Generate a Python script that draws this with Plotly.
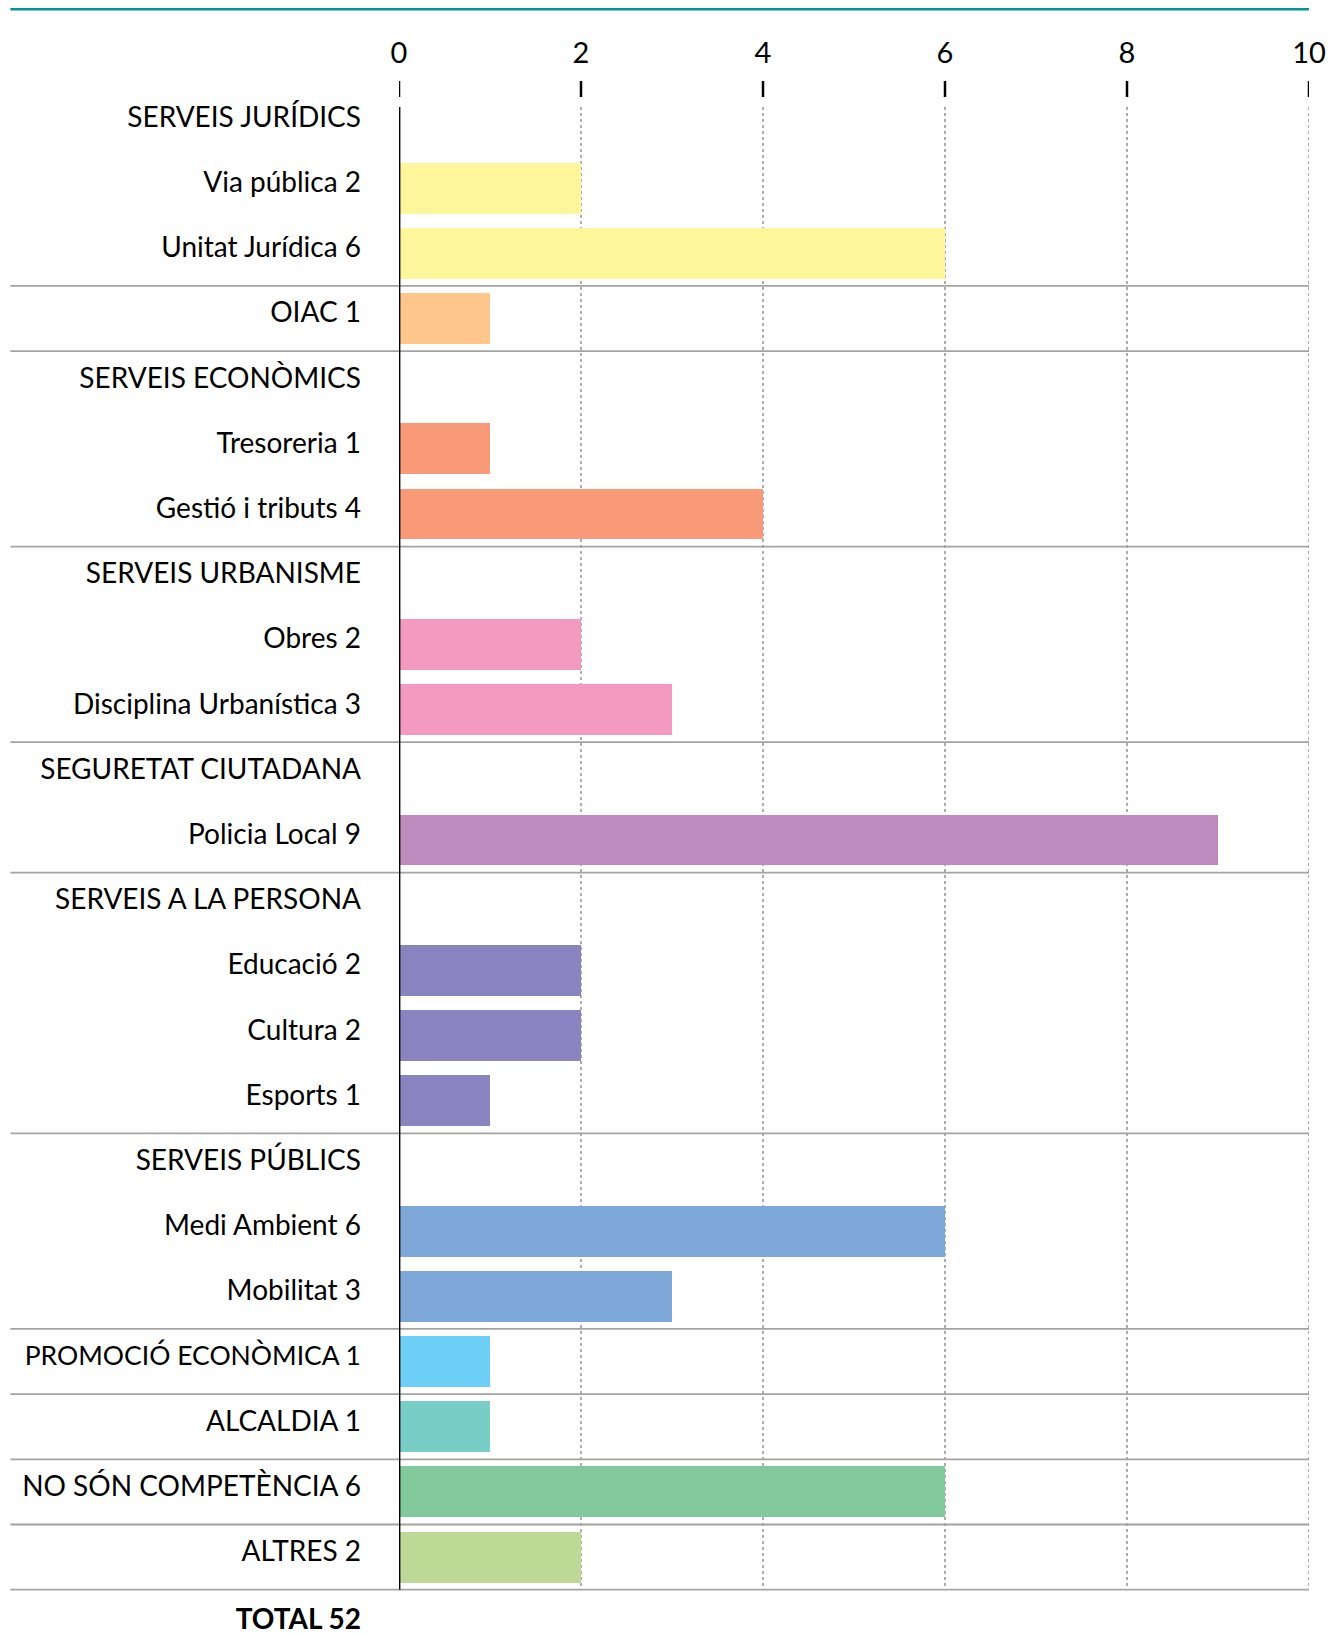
import plotly.graph_objects as go

# ---- data ----
names = ["SERVEIS JURÍDICS", "Via pública", "Unitat Jurídica", "OIAC",
         "SERVEIS ECONÒMICS", "Tresoreria", "Gestió i tributs",
         "SERVEIS URBANISME", "Obres", "Disciplina Urbanística",
         "SEGURETAT CIUTADANA", "Policia Local",
         "SERVEIS A LA PERSONA", "Educació", "Cultura", "Esports",
         "SERVEIS PÚBLICS", "Medi Ambient", "Mobilitat",
         "PROMOCIÓ ECONÒMICA", "ALCALDIA", "NO SÓN COMPETÈNCIA", "ALTRES"]
values = [None, 2, 6, 1,
          None, 1, 4,
          None, 2, 3,
          None, 9,
          None, 2, 2, 1,
          None, 6, 3,
          1, 1, 6, 2]
colors = [None, "#FFF69B", "#FFF69B", "#FEC68A",
          None, "#F89A78", "#F89A78",
          None, "#F49AC1", "#F49AC1",
          None, "#BD8BBE",
          None, "#8A84C0", "#8A84C0", "#8A84C0",
          None, "#7DA7D8", "#7DA7D8",
          "#6ECFF6", "#79CDC7", "#82CA9C", "#BED896"]
separators_after = [2, 3, 6, 9, 11, 15, 18, 19, 20, 21, 22]
total_label = "TOTAL 52"
x_ticks = [0, 2, 4, 6, 8, 10]
narrow_names = ["PROMOCIÓ ECONÒMICA"]   # set a touch smaller so it fits the edge

FONT = "Lato"
FS = 28

rows = list(range(len(names)))
labels = []
for n, v in zip(names, values):
    t = n if v is None else f"{n} {v}"
    if n in narrow_names:
        t = f'<span style="font-size:26.5px">{t}</span>'
    labels.append(t)
bar_rows = [r for r, v in zip(rows, values) if v is not None]
bar_vals = [v for v in values if v is not None]
bar_cols = [c for c in colors if c is not None]

W, H = 1344, 1634
ML, MR, MT, MB = 391, 43, 99, 0
row_h = 65.19
row_top = -0.244
ph = H - MT - MB
pw = W - ML - MR
row_bot = row_top + ph / row_h
label_shift = 0.09
total_row = 23.05

fig = go.Figure()
fig.add_trace(go.Bar(
    y=bar_rows, x=bar_vals, orientation="h", width=0.78,
    marker=dict(color=bar_cols, line=dict(width=0)),
    hoverinfo="skip", showlegend=False,
))

shapes = []
# dotted grid lines
for t in x_ticks[1:]:
    shapes.append(dict(type="line", xref="x", yref="y", x0=t, x1=t,
                       y0=row_top, y1=22.5,
                       line=dict(color="#9a9a9a", width=1.6, dash="dot"),
                       layer="below"))
# tick marks above plot
for t in x_ticks:
    shapes.append(dict(type="line", xref="x", yref="paper", x0=t, x1=t,
                       y0=(H - 89) / ph, y1=(H - 73) / ph,
                       line=dict(color="black", width=2.5)))
# separators
xl = (2.4 - ML) / pw
for s in separators_after:
    shapes.append(dict(type="line", xref="paper", yref="y", x0=xl, x1=1,
                       y0=s + 0.5, y1=s + 0.5,
                       line=dict(color="#a3a3a3", width=1.8)))
# vertical zero axis
shapes.append(dict(type="line", xref="x", yref="y", x0=0, x1=0,
                   y0=row_top, y1=22.5, line=dict(color="black", width=2.8)))
# top teal rule
shapes.append(dict(type="line", xref="paper", yref="paper", x0=xl, x1=1,
                   y0=(H - 1.3) / ph, y1=(H - 1.3) / ph,
                   line=dict(color="#00958F", width=2.6)))

tickvals = [r - label_shift for r in rows] + [total_row - label_shift]
ticktext = labels + [f"<b>{total_label}</b>"]

fig.update_layout(
    width=W, height=H,
    margin=dict(l=ML, r=MR, t=MT, b=MB, pad=0, autoexpand=False),
    paper_bgcolor="white", plot_bgcolor="white",
    font=dict(family=FONT, size=FS, color="black"),
    shapes=shapes,
    bargap=0,
    xaxis=dict(range=[0, 10], side="top", tickvals=x_ticks,
               ticktext=[str(t) for t in x_ticks], automargin=False,
               showgrid=False, zeroline=False, showline=False,
               ticks="", ticklabelstandoff=37,
               tickfont=dict(family=FONT, size=FS + 1, color="black")),
    yaxis=dict(range=[row_bot, row_top], tickvals=tickvals, ticktext=ticktext,
               showgrid=False, zeroline=False, showline=False, automargin=False,
               ticks="", ticklabelstandoff=37,
               tickfont=dict(family=FONT, size=FS, color="black")),
)

fig.write_html("out.html")
